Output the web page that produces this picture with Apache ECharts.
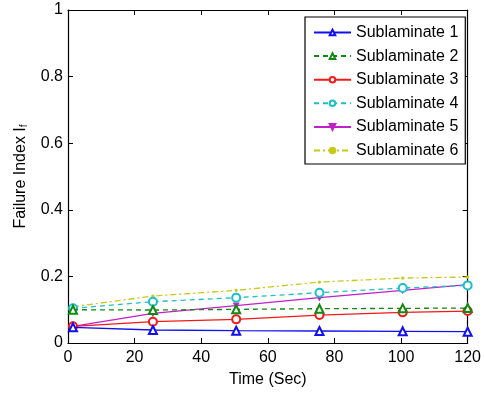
<!DOCTYPE html>
<html>
<head>
<meta charset="utf-8">
<script src="https://cdn.jsdelivr.net/npm/echarts@6/dist/echarts.min.js"></script>
<style>
  html, body { margin: 0; padding: 0; background: #fff; }
  #chart { width: 484px; height: 393px; }
</style>
</head>
<body>
<div id="chart"></div>
<script>
const times = [1.5, 25.5, 50.5, 75.5, 100.5, 120]
const sub1 = [0.047, 0.039, 0.037, 0.036, 0.035, 0.034]
const sub2 = [0.100, 0.099, 0.101, 0.103, 0.104, 0.105]
const sub3 = [0.050, 0.064, 0.071, 0.084, 0.092, 0.096]
const sub4 = [0.104, 0.124, 0.136, 0.151, 0.165, 0.173]
const sub5 = [0.050, 0.089, 0.112, 0.136, 0.158, 0.175]
const sub6 = [0.109, 0.141, 0.158, 0.183, 0.195, 0.198]
const seriesNames = ["Sublaminate 1", "Sublaminate 2", "Sublaminate 3", "Sublaminate 4", "Sublaminate 5", "Sublaminate 6"]
const xTicks = [0, 20, 40, 60, 80, 100, 120]
const yTicks = [0, 0.2, 0.4, 0.6, 0.8, 1]

const font = "'Liberation Sans', Arial, sans-serif"

const chart = echarts.init(document.getElementById("chart"), null, { renderer: "canvas" })

const styles = [
  { color: "#1010f0", type: "solid", symbol: "emptyTriangle", size: 8 },
  { color: "#108a10", type: [5, 4], symbol: "emptyTriangle", size: 8 },
  { color: "#f81818", type: "solid", symbol: "emptyCircle", size: 8 },
  { color: "#18c0c8", type: [5, 4], symbol: "emptyCircle", size: 8 },
  { color: "#c020c8", type: "solid", symbol: "triangle", size: 5, rotate: 180 },
  { color: "#c8c818", type: [6, 3, 2, 3], symbol: "circle", size: 2 }
]

const values = [sub1, sub2, sub3, sub4, sub5, sub6]

const series = values.map((vals, i) => ({
  name: seriesNames[i],
  type: "line",
  xAxisIndex: 0,
  yAxisIndex: 0,
  data: vals.map((v, j) => [times[j], v]),
  symbol: styles[i].symbol,
  symbolSize: styles[i].size,
  symbolRotate: styles[i].rotate || 0,
  showAllSymbol: true,
  color: styles[i].color,
  lineStyle: { color: styles[i].color, width: 1.3, type: styles[i].type },
  itemStyle: { color: styles[i].color, borderColor: styles[i].color, borderWidth: 1.2 },
  emphasis: { disabled: true },
  animation: false,
  z: 10 - i
}))

const tickStyle = { show: true, inside: true, length: 5, lineStyle: { color: "#000", width: 1 } }
const lineStyle = { show: true, onZero: false, lineStyle: { color: "#000", width: 1.2 } }

chart.setOption({
  backgroundColor: "#fff",
  animation: false,
  grid: { left: 68, right: 11, top: 10, bottom: 48 },
  legend: {
    orient: "vertical",
    left: 305,
    top: 17,
    padding: [7, 7, 5, 8],
    itemWidth: 37,
    itemHeight: 7,
    itemGap: 6.6,
    borderColor: "#000",
    borderWidth: 1.2,
    backgroundColor: "#fff",
    data: seriesNames,
    textStyle: { fontFamily: font, fontSize: 16, color: "#000", lineHeight: 17 }
  },
  xAxis: [
    {
      type: "value",
      min: 0,
      max: 120,
      interval: 20,
      position: "bottom",
      name: "Time (Sec)",
      nameLocation: "middle",
      nameGap: 29,
      nameTextStyle: { fontFamily: font, fontSize: 16, color: "#000" },
      axisLine: lineStyle,
      axisTick: tickStyle,
      splitLine: { show: false },
      axisLabel: { fontFamily: font, fontSize: 16, color: "#000", margin: 7 }
    },
    {
      type: "value",
      min: 0,
      max: 120,
      interval: 20,
      position: "top",
      axisLine: lineStyle,
      axisTick: tickStyle,
      splitLine: { show: false },
      axisLabel: { show: false }
    }
  ],
  yAxis: [
    {
      type: "value",
      min: 0,
      max: 1,
      interval: 0.2,
      position: "left",
      name: "Failure Index I{sub|f}",
      nameLocation: "middle",
      nameRotate: 90,
      nameGap: 39,
      nameTextStyle: {
        fontFamily: font,
        fontSize: 16,
        color: "#000",
        rich: { sub: { fontFamily: font, fontSize: 10, color: "#000", verticalAlign: "bottom", padding: [6, 0, 0, 0] } }
      },
      axisLine: lineStyle,
      axisTick: tickStyle,
      splitLine: { show: false },
      axisLabel: { fontFamily: font, fontSize: 16, color: "#000", margin: 5 }
    },
    {
      type: "value",
      min: 0,
      max: 1,
      interval: 0.2,
      position: "right",
      axisLine: lineStyle,
      axisTick: tickStyle,
      splitLine: { show: false },
      axisLabel: { show: false }
    }
  ],
  series: series
})
</script>
</body>
</html>
